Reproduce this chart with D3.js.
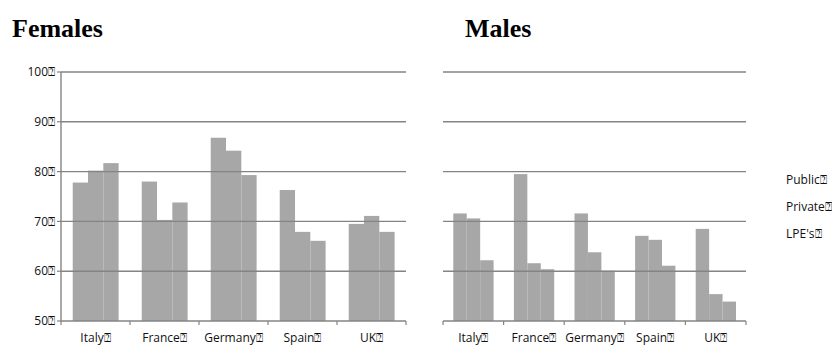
<!DOCTYPE html>
<html>
<head>
<meta charset="utf-8">
<script src="https://cdn.jsdelivr.net/npm/d3@7"></script>
<style>
  html, body { margin: 0; padding: 0; background: #fff; }
  svg { display: block; }
</style>
</head>
<body>
<svg id="chart" width="832" height="345"></svg>
<script>
// Employment rate by sector, two panels (Females / Males)
const countries = ["Italy", "France", "Germany", "Spain", "UK"];
const sectors = ["Public", "Private", "LPE's"];
const femalesPublic  = [77.8, 78.0, 86.8, 76.3, 69.5];
const femalesPrivate = [80.2, 70.3, 84.2, 67.9, 71.1];
const femalesLPE     = [81.7, 73.8, 79.3, 66.1, 67.9];
const malesPublic    = [71.6, 79.5, 71.6, 67.1, 68.5];
const malesPrivate   = [70.6, 61.6, 63.8, 66.3, 55.4];
const malesLPE       = [62.2, 60.4, 60.1, 61.1, 53.9];
const yTicks = [50, 60, 70, 80, 90, 100];
const mark = "\u2370";

const svg = d3.select("#chart");

// soft edge on the bars
svg.append("defs").append("filter").attr("id", "soft")
  .attr("x", "-10%").attr("y", "-10%").attr("width", "120%").attr("height", "120%")
  .append("feGaussianBlur").attr("stdDeviation", 0.7);

const y = d3.scaleLinear().domain([50, 100]).range([321, 72]);
const gridColor = "#848484";
const labelFont = "'Open Sans', sans-serif";
const labelSize = 12;

function panel(title, titleX, x0, x1, series, showYAxis) {
  const g = svg.append("g");
  const x = d3.scaleBand().domain(countries).range([x0, x1]).padding(0);
  const bw = x.bandwidth();
  const inner = d3.scaleBand().domain(sectors).range([bw * 0.17, bw * 0.835]).padding(0);

  g.append("text").attr("x", titleX).attr("y", 37)
    .attr("font-family", "'Liberation Serif', 'Times New Roman', serif")
    .attr("font-weight", "bold").attr("font-size", 26).attr("fill", "#000")
    .text(title);

  // bars
  const rows = countries.map((c, i) => sectors.map((s, j) => ({ c, s, v: series[j][i] })));
  g.append("g").attr("filter", "url(#soft)")
    .selectAll("g").data(rows).join("g")
    .attr("transform", d => `translate(${x(d[0].c)},0)`)
    .selectAll("rect").data(d => d).join("rect")
    .attr("x", d => inner(d.s))
    .attr("width", inner.bandwidth())
    .attr("y", d => y(d.v))
    .attr("height", d => y(50) - y(d.v))
    .attr("fill", "#a7a7a7");

  // horizontal gridlines
  g.append("g").selectAll("line").data(yTicks.slice(1)).join("line")
    .attr("x1", x0).attr("x2", x1)
    .attr("y1", d => y(d)).attr("y2", d => y(d))
    .attr("stroke", gridColor).attr("stroke-width", 1.4);

  // category axis
  const xa = g.append("g").attr("transform", `translate(0,${y(50)})`);
  xa.append("line").attr("x1", x0).attr("x2", x1).attr("stroke", gridColor).attr("stroke-width", 1.4);
  const bounds = countries.map(c => x(c)).concat([x1]);
  xa.selectAll("line.tk").data(bounds).join("line").attr("class", "tk")
    .attr("x1", d => d).attr("x2", d => d).attr("y1", 0).attr("y2", 4)
    .attr("stroke", gridColor).attr("stroke-width", 1.2);
  xa.selectAll("text").data(countries).join("text")
    .attr("x", d => x(d) + bw / 2).attr("y", 21)
    .attr("text-anchor", "middle")
    .attr("font-family", labelFont).attr("font-size", labelSize).attr("fill", "#111")
    .text(d => d + mark);

  if (showYAxis) {
    const ya = g.append("g");
    ya.append("line").attr("x1", x0).attr("x2", x0).attr("y1", y(100)).attr("y2", y(50))
      .attr("stroke", gridColor).attr("stroke-width", 1.4);
    ya.selectAll("line.tk").data(yTicks).join("line").attr("class", "tk")
      .attr("x1", x0 - 4).attr("x2", x0).attr("y1", d => y(d)).attr("y2", d => y(d))
      .attr("stroke", gridColor).attr("stroke-width", 1.2);
    ya.selectAll("text").data(yTicks).join("text")
      .attr("x", x0 - 6).attr("y", d => y(d)).attr("dy", "0.35em")
      .attr("text-anchor", "end")
      .attr("font-family", labelFont).attr("font-size", labelSize).attr("fill", "#111")
      .text(d => d + mark);
  }
}

panel("Females", 12, 61, 406, [femalesPublic, femalesPrivate, femalesLPE], true);
panel("Males", 465, 443, 746, [malesPublic, malesPrivate, malesLPE], false);

// legend labels
svg.append("g").selectAll("text").data(sectors).join("text")
  .attr("x", 786).attr("y", (d, i) => 180 + i * 27).attr("dy", "0.35em")
  .attr("font-family", labelFont).attr("font-size", labelSize).attr("fill", "#111")
  .text(d => d + mark);
</script>
</body>
</html>
